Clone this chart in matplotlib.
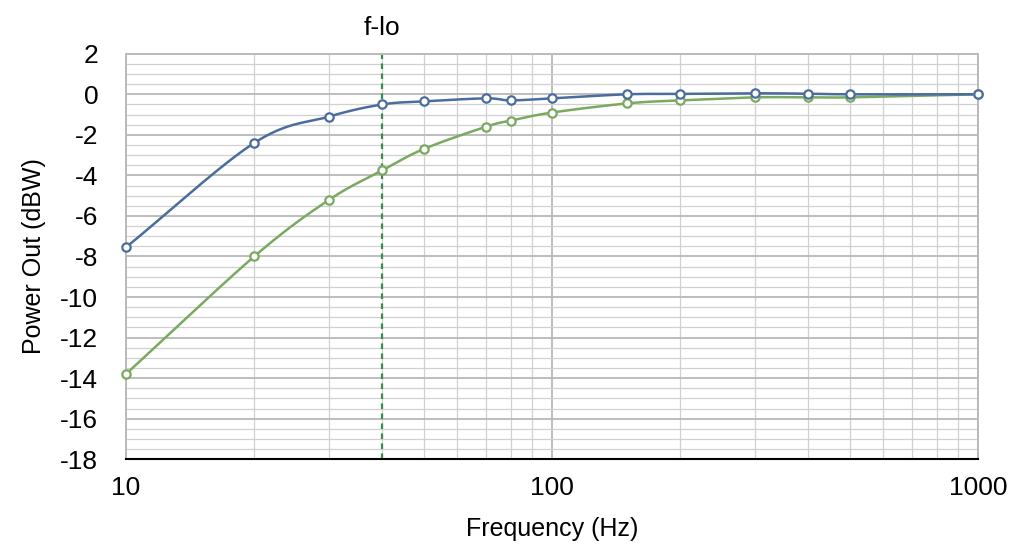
import numpy as np
import matplotlib.pyplot as plt
from matplotlib.ticker import FixedLocator, NullFormatter

plt.rcParams['font.family'] = ['Liberation Sans', 'DejaVu Sans']

freq = [10, 20, 30, 40, 50, 70, 80, 100, 150, 200, 300, 400, 500, 1000]
blue = [-7.55, -2.4, -1.1, -0.5, -0.35, -0.2, -0.3, -0.2, 0.0, 0.02, 0.05, 0.03, 0.0, 0.0]
green = [-13.8, -8.0, -5.2, -3.75, -2.7, -1.6, -1.3, -0.9, -0.45, -0.3, -0.15, -0.15, -0.15, 0.0]
f_lo = 40

def smooth(x, y, n=30):
    # catmull-rom through the points in log-x space, like the spreadsheet's smoothed line
    lx = np.log10(x)
    y = np.asarray(y, float)
    px = np.concatenate([[2*lx[0]-lx[1]], lx, [2*lx[-1]-lx[-2]]])
    py = np.concatenate([[2*y[0]-y[1]], y, [2*y[-1]-y[-2]]])
    xs, ys = [], []
    t = np.linspace(0, 1, n)
    for i in range(1, len(px)-2):
        for p, out in ((px, xs), (py, ys)):
            p0, p1, p2, p3 = p[i-1], p[i], p[i+1], p[i+2]
            out.append(0.5*((2*p1) + (-p0+p2)*t + (2*p0-5*p1+4*p2-p3)*t**2 + (-p0+3*p1-3*p2+p3)*t**3))
    return 10**np.concatenate(xs), np.concatenate(ys)

c_blue = '#4a6d9e'
c_green = '#7aa960'

fig = plt.figure(figsize=(10.24, 5.6), dpi=100)
ax = fig.add_axes([0.123, 0.18, 0.832, 0.724])

ax.set_xscale('log')
ax.set_xlim(10, 1000)
ax.set_ylim(-18, 2)

ax.yaxis.set_major_locator(FixedLocator(np.arange(-18, 3, 2)))
ax.yaxis.set_minor_locator(FixedLocator(np.arange(-18, 2.01, 0.5)))
ax.xaxis.set_major_locator(FixedLocator([10, 100, 1000]))
ax.xaxis.set_minor_locator(FixedLocator([m*d for d in (10, 100) for m in range(2, 10)]))
ax.xaxis.set_minor_formatter(NullFormatter())
ax.set_xticklabels(['10', '100', '1000'])
ax.set_yticklabels([str(v) for v in range(-18, 3, 2)])

ax.grid(which='major', color='#b8b8b8', lw=1.3)
ax.grid(which='minor', color='#d0d0d0', lw=0.9)
ax.set_axisbelow(True)
ax.tick_params(which='both', length=0, labelsize=19)
ax.tick_params(axis='y', pad=20)
ax.tick_params(axis='x', pad=12)
for s in ('top', 'right', 'left'):
    ax.spines[s].set_color('#b8b8b8')
    ax.spines[s].set_linewidth(1.3)
ax.spines['bottom'].set_color('black')
ax.spines['bottom'].set_linewidth(1.5)

ax.axvline(f_lo, color='#3a8c4a', ls=(0, (2.5, 2)), lw=1.6, zorder=2)
ax.text(f_lo, 2.7, 'f-lo', ha='center', va='bottom', fontsize=19)

for y, c in ((green, c_green), (blue, c_blue)):
    sx, sy = smooth(freq, y)
    ax.plot(sx, sy, color=c, lw=1.8, zorder=3)
    ax.plot(freq, y, 'o', ms=6, mfc='white', mec=c, mew=1.6, zorder=4, clip_on=False)

ax.set_xlabel('Frequency (Hz)', fontsize=18, labelpad=12)
ax.set_ylabel('Power Out (dBW)', fontsize=18, labelpad=10)

fig.savefig('out.png', dpi=100)
